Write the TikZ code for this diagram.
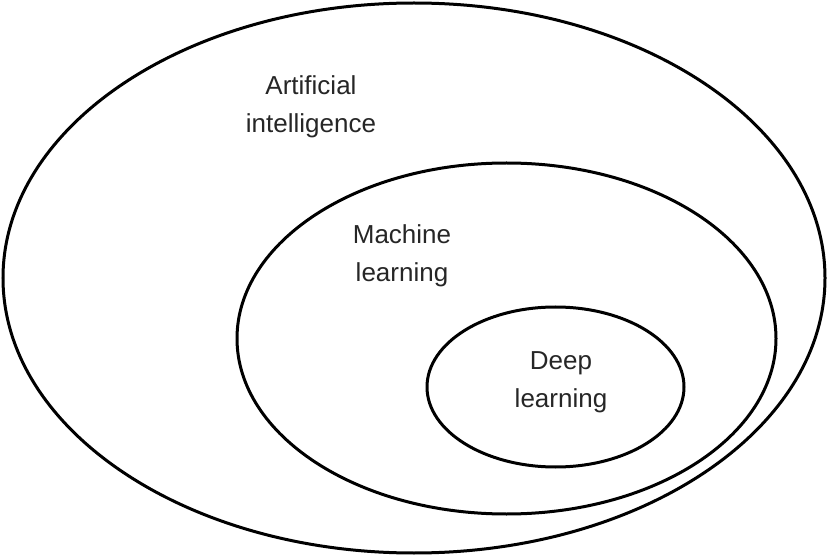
\documentclass[tikz,border=0pt]{standalone}
\usepackage{fontspec}
\setmainfont{Liberation Sans}
\begin{document}
\begin{tikzpicture}[x=1pt,y=-1pt,
  ring/.style={draw=black,line width=3pt},
  lbl/.style={align=center,font=\fontsize{26}{38}\selectfont,text=black!85}]
\useasboundingbox (0,0) rectangle (828,556);
\draw[ring] (414,278) ellipse [x radius=411,y radius=275];
\draw[ring] (506.5,338.5) ellipse [x radius=269.5,y radius=175.5];
\draw[ring] (555.5,387) ellipse [x radius=128.5,y radius=80];
\node[lbl] (ai) at (311,107) {Artificial\\intelligence};
\node[lbl] (ml) at (402,256) {Machine\\learning};
\node[lbl] (dl) at (561,382) {Deep\\learning};
\end{tikzpicture}
\end{document}
